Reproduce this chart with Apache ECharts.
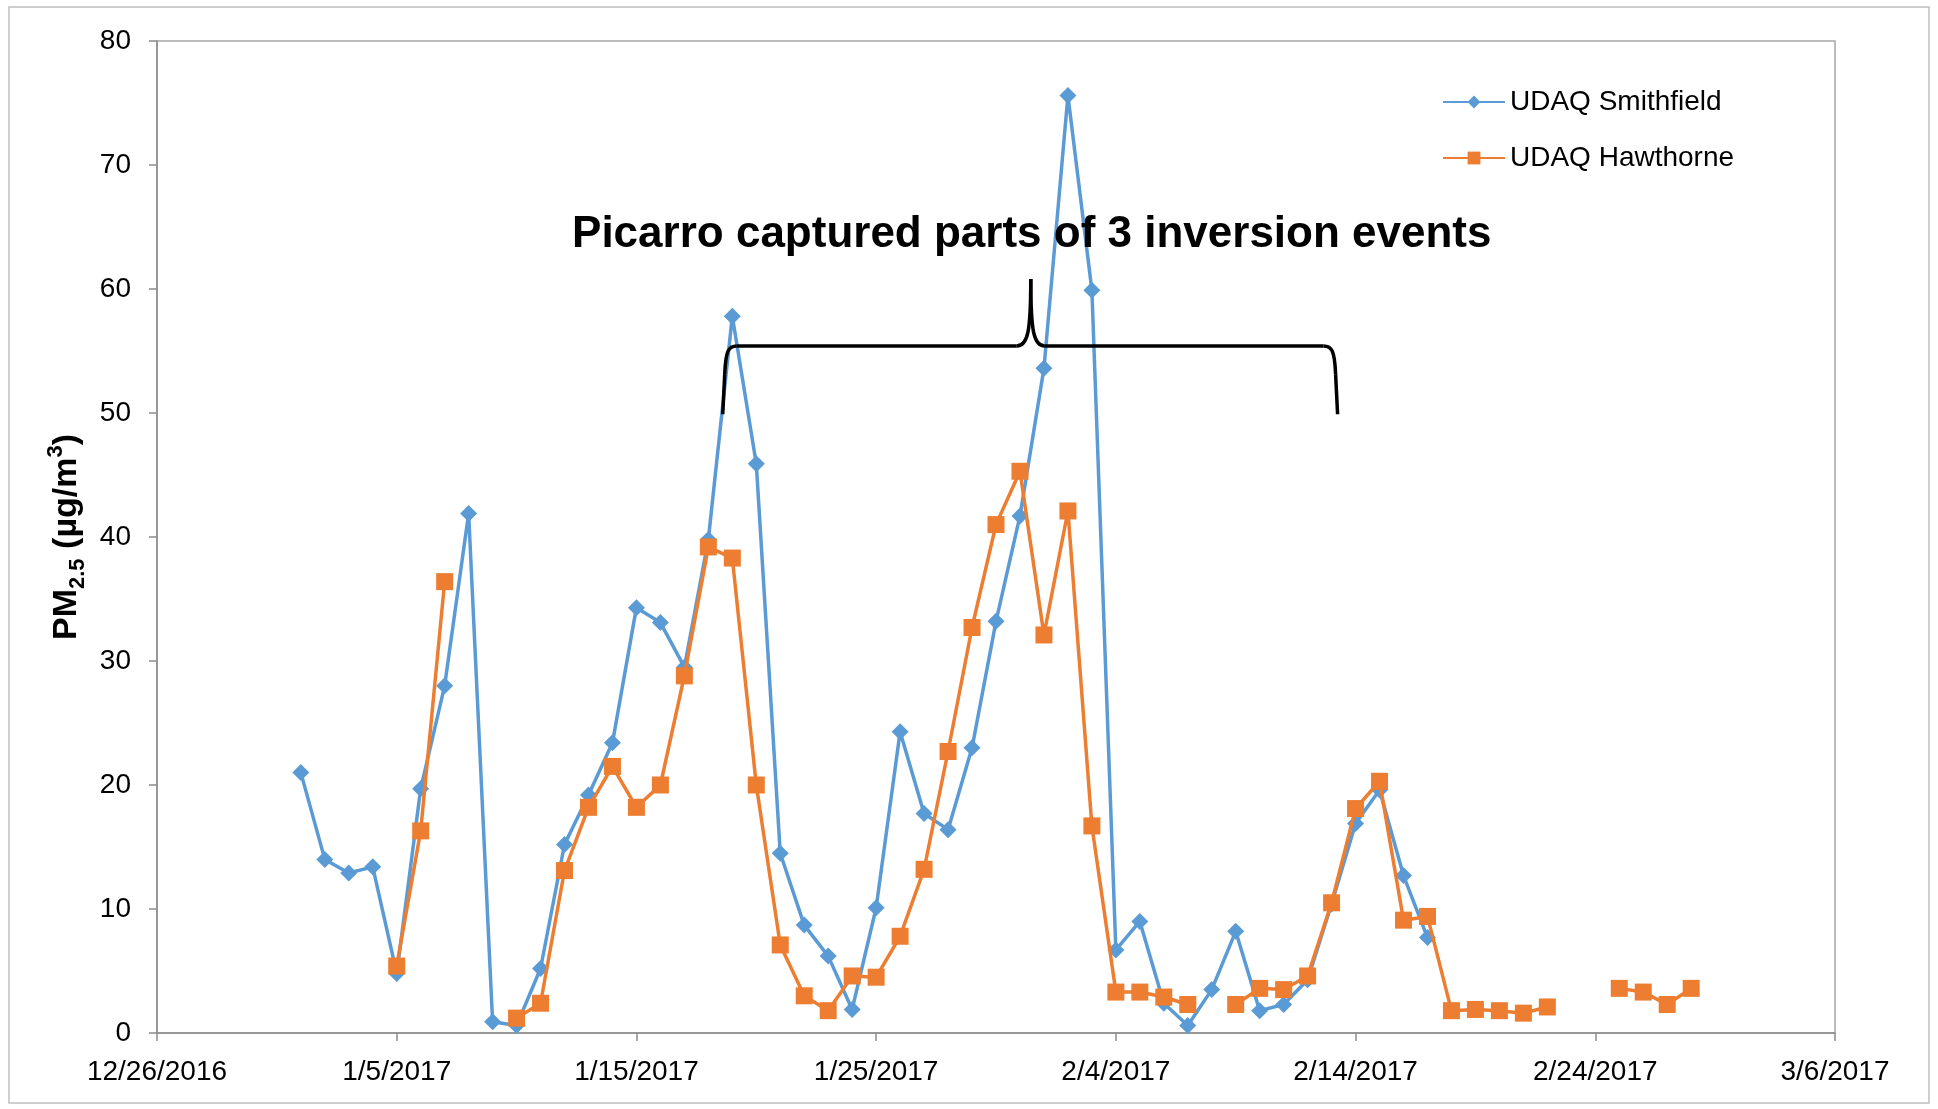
<!DOCTYPE html>
<html lang="en">
<head>
    <meta charset="utf-8">
    <script src="https://cdn.jsdelivr.net/npm/echarts@6/dist/echarts.min.js"></script>
    <style>
        html, body { margin: 0; padding: 0; background: #fff; }
        #chart { width: 1938px; height: 1109px; }
    </style>
</head>
<body>
<div id="chart"></div>
<script>
// x axis = days since 12/26/2016
const xTickLabels = ['12/26/2016', '1/5/2017', '1/15/2017', '1/25/2017', '2/4/2017', '2/14/2017', '2/24/2017', '3/6/2017']

// UDAQ Smithfield, daily from 1/1/2017 (day 6)
const smithfieldStart = 6
const smithfield = [21.0, 14.0, 12.9, 13.4, 4.8, 19.7, 28.0, 41.9, 0.9, 0.6,
    5.2, 15.2, 19.2, 23.4, 34.3, 33.1, 29.5, 39.8, 57.8, 45.9,
    14.5, 8.7, 6.2, 1.9, 10.1, 24.3, 17.7, 16.4, 23.0, 33.2,
    41.7, 53.6, 75.6, 59.9, 6.7, 9.0, 2.4, 0.6, 3.5, 8.2,
    1.8, 2.3, 4.3, 10.4, 16.9, 19.6, 12.7, 7.7]

// UDAQ Hawthorne, daily from 1/5/2017 (day 10), null = no data
const hawthorneStart = 10
const hawthorne = [5.4, 16.3, 36.4, null, null, 1.2, 2.4, 13.1, 18.2, 21.5,
    18.2, 20.0, 28.8, 39.2, 38.3, 20.0, 7.1, 3.0, 1.8, 4.6,
    4.5, 7.8, 13.2, 22.7, 32.7, 41.0, 45.3, 32.1, 42.1, 16.7,
    3.3, 3.3, 2.9, 2.3, null, 2.3, 3.6, 3.5, 4.6, 10.5,
    18.1, 20.3, 9.1, 9.4, 1.8, 1.9, 1.8, 1.6, 2.1, null,
    null, 3.6, 3.3, 2.3, 3.6]

// brace annotation, in data units (day, value)
const braceLeft = 23.6, braceMid = 36.45, braceRight = 49.25
const braceY = 55.4, braceEndY = 49.9, bracePeakY = 60.8

const toPairs = (start, vals) => vals.map((v, i) => [start + i, v == null ? '-' : v])

const font = '"Liberation Sans", Arial, sans-serif'

let chart = echarts.init(document.querySelector('#chart'))
chart.setOption({
    animation: false,
    textStyle: { fontFamily: font },
    grid: {
        left: 157, right: 103, top: 41, bottom: 76,
        show: true, borderColor: '#a6a6a6', borderWidth: 1.5
    },
    legend: {
        orient: 'vertical',
        left: 1437, top: 83,
        itemWidth: 62, itemHeight: 16, itemGap: 28,
        textStyle: { fontSize: 28, color: '#000', fontFamily: font },
        data: ['UDAQ Smithfield', 'UDAQ Hawthorne']
    },
    xAxis: {
        type: 'value', min: 0, max: 70, interval: 10,
        axisLine: { lineStyle: { color: '#8c8c8c', width: 1.5 } },
        axisTick: { show: true, length: 8, lineStyle: { color: '#8c8c8c', width: 1.5 } },
        axisLabel: {
            color: '#000', fontSize: 28, margin: 25,
            formatter: v => xTickLabels[Math.round(v / 10)]
        },
        splitLine: { show: false }
    },
    yAxis: {
        type: 'value', min: 0, max: 80, interval: 10,
        axisLine: { show: true, lineStyle: { color: '#8c8c8c', width: 1.5 } },
        axisTick: { show: true, length: 8, lineStyle: { color: '#8c8c8c', width: 1.5 } },
        axisLabel: { color: '#000', fontSize: 28, margin: 26 },
        splitLine: { show: false },
        name: '{a|PM}{sub|2.5}{a| (µg/m}{sup|3}{a|)}',
        nameLocation: 'middle',
        nameGap: 60,
        nameRotate: 90,
        nameTextStyle: {
            rich: {
                a: { fontSize: 34, fontWeight: 'bold', color: '#000', fontFamily: font, lineHeight: 44, verticalAlign: 'middle' },
                sub: { fontSize: 22, fontWeight: 'bold', color: '#000', fontFamily: font, lineHeight: 44, verticalAlign: 'bottom' },
                sup: { fontSize: 22, fontWeight: 'bold', color: '#000', fontFamily: font, lineHeight: 44, verticalAlign: 'top' }
            }
        }
    },
    series: [{
        name: 'UDAQ Smithfield',
        type: 'line',
        data: toPairs(smithfieldStart, smithfield),
        symbol: 'diamond',
        symbolSize: [17, 17],
        lineStyle: { color: '#5B9BD5', width: 3.5 },
        itemStyle: { color: '#5B9BD5' },
        z: 2
    }, {
        name: 'UDAQ Hawthorne',
        type: 'line',
        data: toPairs(hawthorneStart, hawthorne),
        connectNulls: false,
        symbol: 'rect',
        symbolSize: 17,
        lineStyle: { color: '#ED7D31', width: 3.5 },
        itemStyle: { color: '#ED7D31' },
        z: 3
    }]
})

// brace + label drawn in pixel space from data coordinates
const toPx = p => chart.convertToPixel({ gridIndex: 0 }, p)
const [lx, ey] = toPx([braceLeft, braceEndY])
const [mx, hy] = toPx([braceMid, braceY])
const [rx] = toPx([braceRight, braceY])
const py = toPx([braceMid, bracePeakY])[1]
const r = 14
const braceStyle = { fill: 'none', stroke: '#000', lineWidth: 3.5 }
const seg = (x1, y1, x2, y2) => ({ type: 'line', shape: { x1, y1, x2, y2 }, style: braceStyle, z: 10, silent: true })
const curve = (x1, y1, cpx1, cpy1, cpx2, cpy2, x2, y2) => ({
    type: 'bezierCurve',
    shape: { x1, y1, cpx1, cpy1, cpx2, cpy2, x2, y2 },
    style: braceStyle, z: 10, silent: true
})

chart.setOption({
    graphic: [{
        type: 'rect',
        shape: { x: 9, y: 7, width: 1920, height: 1096 },
        style: { fill: 'none', stroke: '#bfbfbf', lineWidth: 1.5 },
        silent: true
    },
    seg(lx, ey, lx + 2, hy + r * 2),
    curve(lx + 2, hy + r * 2, lx + 3, hy + 4, lx + 6, hy, lx + r, hy),
    seg(lx + r, hy, mx - r, hy),
    curve(mx - r, hy, mx - 3, hy, mx, hy - 14, mx, py),
    curve(mx, py, mx, hy - 14, mx + 3, hy, mx + r, hy),
    seg(mx + r, hy, rx - r, hy),
    curve(rx - r, hy, rx - 6, hy, rx - 3, hy + 4, rx - 2, hy + r * 2),
    seg(rx - 2, hy + r * 2, rx, ey),
    {
        type: 'text',
        x: mx + 1, y: 235,
        style: {
            text: 'Picarro captured parts of 3 inversion events',
            font: 'bold 44px ' + font,
            fill: '#000',
            textAlign: 'center',
            textVerticalAlign: 'middle'
        },
        z: 10
    }]
})
</script>
</body>
</html>
